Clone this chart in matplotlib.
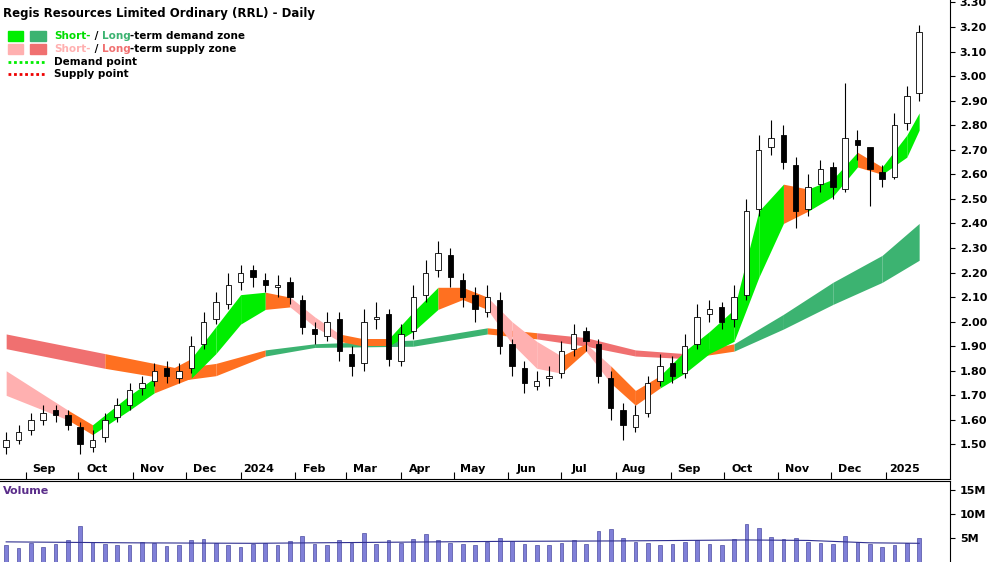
import numpy as np
import pandas as pd
import matplotlib.pyplot as plt
from matplotlib.patches import Rectangle

# weekly bars from 2023-08-21
start = pd.Timestamp('2023-08-21')
opens = [1.49,1.52,1.56,1.60,1.64,1.62,1.57,1.49,1.53,1.61,1.66,1.73,1.76,1.81,1.77,1.81,1.91,2.01,2.07,2.16,
         2.21,2.17,2.14,2.16,2.09,1.97,1.94,2.01,1.87,1.83,2.01,2.03,1.84,1.96,2.11,2.21,2.27,2.17,2.11,2.04,
         2.09,1.91,1.81,1.74,1.77,1.79,1.89,1.96,1.91,1.77,1.64,1.57,1.63,1.76,1.83,1.79,1.91,2.03,2.06,2.01,
         2.11,2.46,2.71,2.76,2.64,2.46,2.56,2.63,2.54,2.74,2.71,2.61,2.59,2.81,2.93]
closes = [1.52,1.55,1.60,1.63,1.62,1.58,1.50,1.52,1.60,1.66,1.72,1.75,1.80,1.78,1.80,1.90,2.00,2.08,2.15,2.20,
          2.18,2.15,2.15,2.10,1.98,1.95,2.00,1.88,1.82,2.00,2.02,1.85,1.95,2.10,2.20,2.28,2.18,2.10,2.05,2.10,
          1.90,1.82,1.75,1.76,1.78,1.88,1.95,1.92,1.78,1.65,1.58,1.62,1.75,1.82,1.78,1.90,2.02,2.05,2.00,2.10,
          2.45,2.70,2.75,2.65,2.45,2.55,2.62,2.55,2.75,2.72,2.62,2.58,2.80,2.92,3.18]
highs = [1.55,1.58,1.63,1.66,1.66,1.64,1.59,1.56,1.63,1.69,1.75,1.78,1.83,1.84,1.83,1.94,2.04,2.12,2.20,2.23,
         2.23,2.20,2.19,2.18,2.11,2.00,2.04,2.04,1.90,2.05,2.08,2.05,1.99,2.15,2.25,2.33,2.30,2.20,2.14,2.15,
         2.12,1.93,1.84,1.80,1.82,1.92,1.99,1.98,1.93,1.80,1.67,1.66,1.78,1.87,1.86,1.95,2.07,2.09,2.08,2.15,
         2.50,2.76,2.82,2.80,2.67,2.60,2.66,2.65,2.97,2.78,2.70,2.64,2.85,2.96,3.21]
lows = [1.46,1.50,1.54,1.58,1.59,1.56,1.46,1.47,1.51,1.59,1.64,1.70,1.74,1.75,1.75,1.79,1.89,1.99,2.05,2.13,
        2.14,2.12,2.10,2.07,1.95,1.91,1.92,1.84,1.78,1.80,1.97,1.82,1.82,1.93,2.08,2.18,2.14,2.06,2.00,2.02,
        1.87,1.78,1.71,1.72,1.74,1.77,1.86,1.88,1.75,1.60,1.52,1.55,1.61,1.74,1.75,1.77,1.89,2.00,1.97,1.98,
        2.09,2.43,2.68,2.62,2.38,2.43,2.53,2.50,2.53,2.66,2.47,2.55,2.58,2.78,2.90]
volume = [3.5,3.0,4.0,3.2,3.8,4.5,7.5,4.2,3.8,3.5,3.6,4.2,3.9,3.4,3.6,4.5,4.8,4.0,3.5,3.2,
          3.8,4.0,3.6,4.4,5.5,3.8,3.5,4.6,3.9,6.0,3.7,4.5,3.9,4.8,5.8,4.5,4.0,3.8,3.6,4.2,
          5.0,4.4,3.8,3.6,3.5,4.0,4.6,3.8,6.5,6.8,5.0,4.2,4.0,3.6,3.8,4.2,4.5,3.8,3.5,4.8,
          8.0,7.0,5.2,4.8,5.0,4.2,4.0,3.8,5.5,4.2,3.8,3.2,3.6,4.0,5.0]
vol_ma_x = [0, 10, 20, 30, 40, 50, 60, 65, 70, 74]
vol_ma = [4.2, 4.0, 3.9, 4.1, 4.3, 4.4, 4.6, 4.5, 4.0, 3.9]

# short-term zone
st_x = [0,5,7,10,12,15,17,19,21,23,25,27,29,31,33,35,37,39,41,43,45,47,49,51,53,55,57,59,61,63,65,67,69,71,73,74]
st_hi = [1.80,1.64,1.58,1.70,1.77,1.85,1.98,2.11,2.12,2.10,2.02,1.95,1.93,1.93,2.04,2.14,2.14,2.10,2.00,1.92,
         1.86,1.91,1.82,1.72,1.78,1.88,1.96,2.05,2.45,2.56,2.54,2.58,2.69,2.63,2.76,2.85]
st_lo = [1.70,1.60,1.54,1.64,1.71,1.77,1.87,1.99,2.05,2.06,1.98,1.92,1.90,1.90,1.96,2.05,2.09,2.05,1.91,1.81,
         1.79,1.88,1.75,1.66,1.73,1.79,1.87,1.92,2.18,2.40,2.45,2.51,2.63,2.60,2.67,2.78]
st_state = ['s','o','d','d','o','d','d','d','o','s','s','o','o','d','d','o','o','s','s','s',
            'o','s','o','o','d','d','d','d','d','o','d','d','o','d','d']
# long-term zone
lt_x = [0,8,14,17,21,25,33,39,43,47,51,55,59,63,67,71,74]
lt_hi = [1.95,1.87,1.81,1.83,1.885,1.91,1.925,1.975,1.955,1.935,1.885,1.87,1.91,2.03,2.16,2.27,2.40]
lt_lo = [1.89,1.81,1.76,1.78,1.86,1.895,1.90,1.95,1.93,1.90,1.86,1.85,1.88,1.97,2.07,2.16,2.25]
lt_state = ['s','o','o','o','d','d','d','o','s','s','s','o','d','d','d','d']

ST_COL = {'d': '#00ee00', 's': '#ffb0b0', 'o': '#ff7020'}
LT_COL = {'d': '#3cb371', 's': '#f07070', 'o': '#ff7020'}

fig = plt.figure(figsize=(10, 5.62), dpi=100)
ax = fig.add_axes([0, 0.148, 0.95, 0.852])
axv = fig.add_axes([0, 0.0, 0.95, 0.145])

def draw_zone(xs, hi, lo, state, cols):
    for i, s in enumerate(state):
        ax.fill_between(xs[i:i + 2], lo[i:i + 2], hi[i:i + 2], color=cols[s], lw=0, zorder=1)

draw_zone(lt_x, lt_hi, lt_lo, lt_state, LT_COL)
draw_zone(st_x, st_hi, st_lo, st_state, ST_COL)

for i in range(len(closes)):
    o, c = opens[i], closes[i]
    ax.vlines(i, lows[i], highs[i], color='black', lw=0.8, zorder=2)
    face = 'white' if c >= o else 'black'
    ax.add_patch(Rectangle((i - 0.22, min(o, c)), 0.44, max(abs(c - o), 0.004),
                           facecolor=face, edgecolor='black', lw=0.6, zorder=3))

ax.set_xlim(-0.5, 76.5)
ax.set_ylim(1.36, 3.31)
ax.yaxis.tick_right()
ax.set_yticks(np.arange(1.5, 3.31, 0.1))
ax.set_yticklabels([f'{v:.2f}' for v in np.arange(1.5, 3.31, 0.1)], fontsize=8, fontweight='bold')

months = pd.date_range('2023-09-01', '2025-01-01', freq='MS')
mpos = [(m - start).days / 7 for m in months]
mlab = [str(m.year) if m.month == 1 else m.strftime('%b') for m in months]
ax.set_xticks(mpos)
ax.set_xticklabels([])
ax.tick_params(axis='x', which='major', length=5, direction='in')
for p, lab in zip(mpos, mlab):
    ax.text(p + 1.5, 1.38, lab, fontsize=8, fontweight='bold', ha='center', va='bottom')
for s in ['top', 'left']:
    ax.spines[s].set_visible(False)

ax.text(0.003, 0.985, 'Regis Resources Limited Ordinary (RRL) - Daily', transform=ax.transAxes,
        fontsize=8.5, fontweight='bold', va='top')
leg_y = [0.925, 0.898, 0.871, 0.845]
ax.add_patch(Rectangle((0.008, leg_y[0] - 0.01), 0.016, 0.02, transform=ax.transAxes, color='#00ee00'))
ax.add_patch(Rectangle((0.032, leg_y[0] - 0.01), 0.016, 0.02, transform=ax.transAxes, color='#3cb371'))
ax.add_patch(Rectangle((0.008, leg_y[1] - 0.01), 0.016, 0.02, transform=ax.transAxes, color='#ffb0b0'))
ax.add_patch(Rectangle((0.032, leg_y[1] - 0.01), 0.016, 0.02, transform=ax.transAxes, color='#f07070'))
ax.plot([0.008, 0.048], [leg_y[2]] * 2, transform=ax.transAxes, color='#00ee00', ls=(0, (1, 1)), lw=2)
ax.plot([0.008, 0.048], [leg_y[3]] * 2, transform=ax.transAxes, color='#ee0000', ls=(0, (1, 1)), lw=2)

def legend_row(y, parts):
    x = 0.057
    r = fig.canvas.get_renderer()
    for txt, col in parts:
        t = ax.text(x, y, txt, transform=ax.transAxes, fontsize=7.5, fontweight='bold', color=col, va='center')
        bb = t.get_window_extent(renderer=r)
        x += bb.width / (ax.get_window_extent(renderer=r).width)

legend_row(leg_y[0], [('Short-', '#00dd00'), (' / ', 'black'), ('Long', '#3cb371'), ('-term demand zone', 'black')])
legend_row(leg_y[1], [('Short-', '#ffb0b0'), (' / ', 'black'), ('Long', '#f07070'), ('-term supply zone', 'black')])
legend_row(leg_y[2], [('Demand point', 'black')])
legend_row(leg_y[3], [('Supply point', 'black')])

axv.bar(range(len(volume)), volume, width=0.3, color='#8080d8', edgecolor='#303090', lw=0.4)
axv.plot(vol_ma_x, vol_ma, color='#303090', lw=0.8)
axv.set_xlim(-0.5, 76.5)
axv.set_ylim(0, 17)
axv.yaxis.tick_right()
axv.set_yticks([5, 10, 15])
axv.set_yticklabels(['5M', '10M', '15M'], fontsize=8, fontweight='bold')
axv.set_xticks(mpos)
axv.set_xticklabels([])
axv.tick_params(axis='x', length=3)
for s in ['left', 'bottom']:
    axv.spines[s].set_visible(False)
axv.text(0.003, 0.93, 'Volume', transform=axv.transAxes, fontsize=8, fontweight='bold',
         color='#5a2d8a', va='top')

fig.savefig('out.png', dpi=100)
